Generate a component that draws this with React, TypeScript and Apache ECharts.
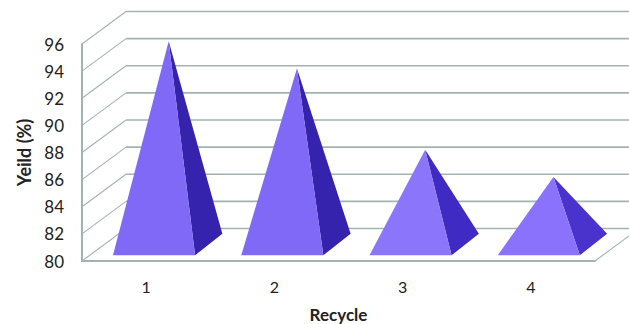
import React, { useEffect, useRef } from "react";
import * as echarts from "echarts";

const categories = ["1", "2", "3", "4"];
const yields = [95, 93, 87, 85];
const yTicks = [80, 82, 84, 86, 88, 90, 92, 94, 96];
const frontColors = ["#8069f6", "#8069f6", "#8a75fb", "#8a72fc"];
const sideColors = ["#3523ae", "#3523ae", "#3f2ac4", "#4a32cc"];

// Oblique projection of the 3D box, in pixels
const DEPTH_X = 44;
const DEPTH_Y = 32.5;
const GRID_COLOR = "#a3b3b1";
const FONT = "Lato";

export default function App() {
  const ref = useRef<HTMLDivElement>(null);
  useEffect(() => {
    const chart = echarts.init(ref.current!, undefined, { renderer: "svg" });
    chart.setOption({
      animation: false,
      backgroundColor: "#ffffff",
      grid: { left: 82, top: 44, width: 513, height: 217, outerBoundsMode: "none" },
      xAxis: {
        type: "category",
        data: categories,
        name: "Recycle",
        nameLocation: "middle",
        nameGap: 45,
        nameTextStyle: { fontFamily: FONT, fontWeight: "bold", fontSize: 17, color: "#222" },
        axisTick: { show: false },
        axisLine: { lineStyle: { color: GRID_COLOR, width: 2 } },
        axisLabel: { fontFamily: FONT, fontSize: 16, color: "#222", margin: 17 },
        splitLine: { show: false },
      },
      yAxis: {
        type: "value",
        min: 80,
        max: 96,
        interval: 2,
        name: "Yeild (%)",
        nameLocation: "middle",
        nameGap: 48,
        nameTextStyle: { fontFamily: FONT, fontWeight: "bold", fontSize: 18, color: "#222" },
        axisTick: { show: false },
        axisLine: { show: true, lineStyle: { color: GRID_COLOR, width: 2 } },
        axisLabel: { fontFamily: FONT, fontSize: 17, color: "#222", margin: 18 },
        splitLine: { show: false },
      },
      series: [
        {
          // Side wall and back wall gridlines, one per tick value
          type: "custom",
          silent: true,
          clip: false,
          z: 1,
          data: yTicks.map((v) => [0, v]),
          renderItem: (_params: any, api: any) => {
            const band = api.size([1, 0])[0];
            const p = api.coord([api.value(0), api.value(1)]);
            const left = p[0] - band / 2;
            const right = left + band * categories.length;
            const backY = p[1] - DEPTH_Y;
            return {
              type: "group",
              children: [
                {
                  type: "line",
                  shape: { x1: left, y1: p[1], x2: left + DEPTH_X, y2: backY },
                  style: { stroke: GRID_COLOR, lineWidth: 1.1 },
                },
                {
                  type: "line",
                  shape: { x1: left + DEPTH_X, y1: backY, x2: right + DEPTH_X, y2: backY },
                  style: { stroke: GRID_COLOR, lineWidth: 1.6 },
                },
              ],
            };
          },
        },
        {
          // Right edge of the floor
          type: "custom",
          silent: true,
          clip: false,
          z: 1,
          data: [[categories.length - 1, yTicks[0]]],
          renderItem: (_params: any, api: any) => {
            const band = api.size([1, 0])[0];
            const p = api.coord([api.value(0), api.value(1)]);
            const x = p[0] + band / 2;
            return {
              type: "line",
              shape: { x1: x, y1: p[1], x2: x + DEPTH_X, y2: p[1] - DEPTH_Y },
              style: { stroke: GRID_COLOR, lineWidth: 1.1 },
            };
          },
        },
        {
          // Pyramids: front face and shaded right face
          type: "custom",
          silent: true,
          clip: false,
          z: 3,
          data: yields.map((v, i) => [i, v]),
          renderItem: (params: any, api: any) => {
            const band = api.size([1, 0])[0];
            const idx = api.value(0);
            const top = api.coord([idx, api.value(1)]);
            const floor = api.coord([idx, yTicks[0]]);
            const halfBase = band * 0.32;
            const inset = DEPTH_X * 0.18;
            const depthX = DEPTH_X * 0.62;
            const depthY = DEPTH_Y * 0.66;
            const cx = floor[0] + inset;
            const fy = floor[1] - DEPTH_Y * 0.18;
            const fl = [cx - halfBase, fy];
            const fr = [cx + halfBase, fy];
            const br = [fr[0] + depthX, fy - depthY];
            const apex = [cx + depthX / 2 + 1, top[1] - DEPTH_Y / 2];
            return {
              type: "group",
              children: [
                {
                  type: "polygon",
                  shape: { points: [fr, br, apex] },
                  style: { fill: sideColors[params.dataIndex] },
                },
                {
                  type: "polygon",
                  shape: { points: [fl, fr, apex] },
                  style: { fill: frontColors[params.dataIndex] },
                },
              ],
            };
          },
        },
      ],
    });
    return () => chart.dispose();
  }, []);
  return <div ref={ref} style={{ position: "fixed", left: 0, top: 0, width: 629, height: 324 }} />;
}
